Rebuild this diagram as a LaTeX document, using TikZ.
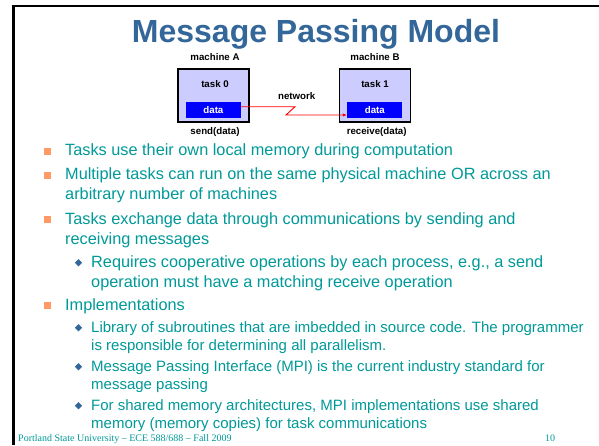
\documentclass[tikz,border=0pt]{standalone}
\usepackage{fontspec}
\setmainfont{Liberation Sans}
\newfontfamily\footfont{Liberation Serif}
\usetikzlibrary{arrows.meta,shapes.geometric}
\definecolor{titleblue}{RGB}{51,102,153}
\definecolor{bodyteal}{RGB}{0,153,153}
\definecolor{bulletorange}{RGB}{255,153,102}
\definecolor{boxlavender}{RGB}{204,204,255}
\tikzset{
	diaglabel/.style={font=\fontsize{9.7}{11}\selectfont\bfseries, inner sep=0pt, anchor=base},
	machine/.style={draw=black, line width=1.8pt, fill=boxlavender, minimum width=71pt, minimum height=53pt, inner sep=0pt},
	databox/.style={fill=blue, text=white, minimum width=54.7pt, minimum height=16pt, inner sep=0pt, font=\fontsize{9.7}{11}\selectfont\bfseries},
	bulletline/.style={anchor=base west, align=left, inner sep=0pt, text=bodyteal, font=\fontsize{16.3}{20}\selectfont},
	subline/.style={bulletline, font=\fontsize{15}{18}\selectfont},
	sqbullet/.style={fill=bulletorange, minimum size=7pt, inner sep=0pt},
	dmbullet/.style={diamond, fill=titleblue, minimum size=7.5pt, inner sep=0pt}
}
\begin{document}
\begin{tikzpicture}[x=1pt, y=-1pt]
	\useasboundingbox (0,0) rectangle (599,445);
	\fill[white] (0,0) rectangle (599,445);
	\draw[line width=2.2pt] (599,6) -- (13.5,6) -- (13.5,445);
	\node[font=\fontsize{32}{36}\selectfont\bfseries, text=titleblue, anchor=base, inner sep=0pt] (title) at (316,42) {Message Passing Model};
	\begin{scope}
		\node[machine] (boxA) at (213.6,95.8) {};
		\node[machine] (boxB) at (375,95.2) {};
		\node[diaglabel] (machA) at (215,60.5) {machine A};
		\node[diaglabel] (machB) at (375,60.5) {machine B};
		\node[diaglabel] (task0) at (215,87) {task 0};
		\node[diaglabel] (task1) at (375,87) {task 1};
		\node[databox] (dataA) at (213.4,110.3) {data};
		\node[databox] (dataB) at (374.8,109.7) {data};
		\node[diaglabel] (net) at (296.7,99.5) {network};
		\node[diaglabel] (send) at (215,134.5) {send(data)};
		\node[diaglabel] (recv) at (376.7,134.5) {receive(data)};
		\coordinate (netTop) at (295,106.7);
		\coordinate (netBot) at (286,115);
		\draw[red, line width=0.9pt, -{Latex[length=4.5pt,width=3.5pt]}] (dataA.east |- netTop) -- (netTop) -- (netBot) -- (dataB.west |- netBot);
	\end{scope}
	\begin{scope}[yshift=-3pt]
		\foreach \n/\y in {1/152.7, 2/176.5, 3/221, 4/307}
			\node[sqbullet] (sq\n) at (47,\y-4.2) {};
		\foreach \n/\y in {1/264, 2/329, 3/368, 4/407}
			\node[dmbullet] (dm\n) at (78.5,\y-4.2) {};
		% multi-line nodes sit on the baseline of their last line
		\node[bulletline] (item1) at (65,152.7) {Tasks use their own local memory during computation};
		\node[bulletline] (item2) at (65,196.5) {Multiple tasks can run on the same physical machine OR across an\\arbitrary number of machines};
		\node[bulletline] (item3) at (65,241) {Tasks exchange data through communications by sending and\\receiving messages};
		\node[bulletline] (sub1) at (91,284) {Requires cooperative operations by each process, e.g., a send\\operation must have a matching receive operation};
		\node[bulletline] (item4) at (65,307) {Implementations};
		\node[subline] (sub2) at (91,347) {Library of subroutines that are imbedded in source code. The programmer\\is responsible for determining all parallelism.};
		\node[subline] (sub3) at (91,386) {Message Passing Interface (MPI) is the current industry standard for\\message passing};
		\node[subline] (sub4) at (91,425) {For shared memory architectures, MPI implementations use shared\\memory (memory copies) for task communications};
	\end{scope}
	\node[font=\footfont\fontsize{10}{12}\selectfont, text=bodyteal, anchor=base west, inner sep=0pt] (foot) at (18,441) {Portland State University – ECE 588/688 – Fall 2009};
	\node[font=\footfont\fontsize{10}{12}\selectfont, text=bodyteal, anchor=base, inner sep=0pt] (page) at (550,441) {10};
\end{tikzpicture}
\end{document}
